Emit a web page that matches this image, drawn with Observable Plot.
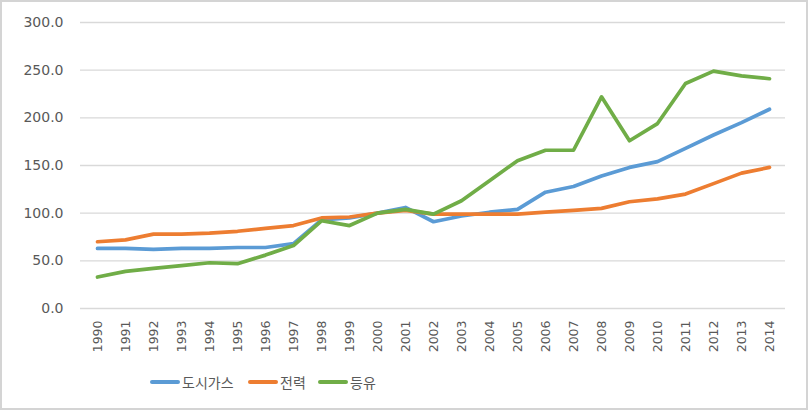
<!DOCTYPE html>
<html>
<head>
<meta charset="utf-8">
<script src="https://cdn.jsdelivr.net/npm/d3@7"></script>
<script src="https://cdn.jsdelivr.net/npm/@observablehq/plot@0.6"></script>
<style>
  body { margin: 0; background: #fff; }
  #wrap { position: relative; width: 808px; height: 410px; overflow: hidden; font-family: "DejaVu Sans", sans-serif; }
  #frame { position: absolute; left: 0; top: 0; width: 808px; height: 410px; box-sizing: border-box; border: 2px solid #d4d4d4; pointer-events: none; }
  #plot { position: absolute; left: 0; top: 0; }
  #legend { position: absolute; left: 0; top: 370px; width: 808px; height: 24px; }
  .item { position: absolute; top: 0; height: 24px; display: flex; align-items: center; font-family: "Noto Sans CJK KR", sans-serif; font-size: 14px; color: #595959; }
  .sw { display: inline-block; width: 30px; height: 4px; margin-right: 2px; border-radius: 2px; }
</style>
</head>
<body>
<div id="wrap">
  <div id="plot"></div>
  <div id="legend"></div>
  <div id="frame"></div>
</div>
<script>
const years = ["1990","1991","1992","1993","1994","1995","1996","1997","1998","1999","2000","2001","2002","2003","2004","2005","2006","2007","2008","2009","2010","2011","2012","2013","2014"];
const seriesNames = ["도시가스", "전력", "등유"];
const seriesColors = ["#5B9BD5", "#ED7D31", "#70AD47"];
const cityGas = [63, 63, 62, 63, 63, 64, 64, 68, 93, 95, 100, 106, 91, 97, 101, 104, 122, 128, 139, 148, 154, 168, 182, 195, 209];
const electricity = [70, 72, 78, 78, 79, 81, 84, 87, 95, 96, 100, 103, 99, 99, 99, 99, 101, 103, 105, 112, 115, 120, 131, 142, 148];
const kerosene = [33, 39, 42, 45, 48, 47, 56, 66, 92, 87, 100, 104, 99, 113, 134, 155, 166, 166, 222, 176, 194, 236, 249, 244, 241];
const yTicks = [0, 50, 100, 150, 200, 250, 300];

const seriesValues = [cityGas, electricity, kerosene];
const data = [];
seriesNames.forEach((name, i) => {
  years.forEach((yr, j) => data.push({ year: yr, value: seriesValues[i][j], series: name }));
});

const chart = Plot.plot({
  width: 808,
  height: 360,
  marginLeft: 80,
  marginRight: 23,
  marginTop: 22,
  marginBottom: 52,
  style: { fontFamily: "DejaVu Sans, sans-serif", color: "#595959", background: "transparent" },
  x: { type: "point", domain: years, padding: 0.5, label: null },
  y: { domain: [0, 300], label: null },
  color: { domain: seriesNames, range: seriesColors },
  marks: [
    Plot.ruleY(yTicks, { stroke: "#d9d9d9", strokeWidth: 1.3 }),
    Plot.axisY({ ticks: yTicks, tickFormat: d3.format(".1f"), tickSize: 0, tickPadding: 17, fontSize: 14, label: null }),
    Plot.axisX({ tickSize: 0, tickRotate: -90, tickPadding: 12, fontSize: 12.5, label: null }),
    Plot.line(data, { x: "year", y: "value", z: "series", stroke: "series", strokeWidth: 3.7, strokeLinejoin: "round", strokeLinecap: "round" })
  ]
});
document.getElementById("plot").appendChild(chart);

const legendPos = [150, 248, 318];
const legend = document.getElementById("legend");
seriesNames.forEach((name, i) => {
  const it = document.createElement("div");
  it.className = "item";
  it.style.left = legendPos[i] + "px";
  const sw = document.createElement("span");
  sw.className = "sw";
  sw.style.background = seriesColors[i];
  it.appendChild(sw);
  const t = document.createElement("span");
  t.textContent = name;
  it.appendChild(t);
  legend.appendChild(it);
});
</script>
</body>
</html>
